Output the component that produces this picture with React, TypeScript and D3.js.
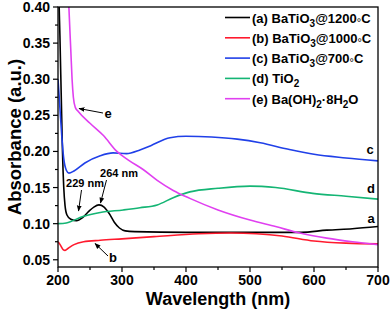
import React from "react";
import * as d3 from "d3";

// wavelength (nm), absorbance (a.u.)
const seriesA: [number, number][] = [
  [200, 0.6], [201, 0.45], [203, 0.36], [205, 0.28], [207, 0.2], [209, 0.15], [211, 0.125],
  [214, 0.112], [220, 0.106], [229, 0.104], [238, 0.108], [248, 0.117], [256, 0.123],
  [264, 0.126], [272, 0.123], [280, 0.114], [288, 0.102], [296, 0.094], [305, 0.09],
  [320, 0.089], [400, 0.088], [500, 0.088], [580, 0.088], [620, 0.091], [660, 0.093], [700, 0.096],
];
const seriesB: [number, number][] = [
  [200, 0.075], [204, 0.07], [208, 0.064], [211, 0.063], [216, 0.066], [225, 0.071],
  [240, 0.075], [266, 0.077], [300, 0.079], [350, 0.082], [420, 0.086], [470, 0.087],
  [510, 0.086], [550, 0.083], [600, 0.076], [650, 0.073], [700, 0.072],
];
const seriesC: [number, number][] = [
  [200, 0.3], [203, 0.26], [206, 0.22], [209, 0.19], [213, 0.174], [217, 0.17], [225, 0.173],
  [242, 0.184], [266, 0.194], [286, 0.198], [307, 0.197], [328, 0.202], [345, 0.208],
  [375, 0.219], [400, 0.221], [440, 0.22], [480, 0.217], [516, 0.212], [560, 0.203],
  [600, 0.196], [650, 0.191], [700, 0.187],
];
const seriesD: [number, number][] = [
  [200, 0.1], [213, 0.101], [239, 0.11], [266, 0.1155], [302, 0.119], [328, 0.122],
  [355, 0.126], [380, 0.136], [406, 0.144], [450, 0.149], [500, 0.152], [540, 0.15],
  [598, 0.142], [650, 0.138], [700, 0.134],
];
const seriesE: [number, number][] = [
  [215, 0.45], [217, 0.4], [220, 0.34], [222, 0.3], [224, 0.275], [227, 0.261], [232, 0.255],
  [250, 0.239], [271, 0.222], [292, 0.2], [310, 0.188], [333, 0.175], [355, 0.16], [380, 0.146],
  [406, 0.135], [450, 0.119], [500, 0.105], [540, 0.096], [578, 0.087], [620, 0.08],
  [660, 0.075], [700, 0.071],
];

const xTicks = [200, 300, 400, 500, 600, 700];
const xMinor = [250, 350, 450, 550, 650];
const yTicks = [0.05, 0.1, 0.15, 0.2, 0.25, 0.3, 0.35, 0.4];
const yMinor = [0.075, 0.125, 0.175, 0.225, 0.275, 0.325, 0.375];

// label parts alternate normal / subscript; deg adds "°C" at the end
const seriesList = [
  { key: "a", data: seriesA, color: "#000000", label: ["(a) BaTiO", "3", "@1200"], deg: true },
  { key: "b", data: seriesB, color: "#ff1a2e", label: ["(b) BaTiO", "3", "@1000"], deg: true },
  { key: "c", data: seriesC, color: "#2040e8", label: ["(c) BaTiO", "3", "@700"], deg: true },
  { key: "d", data: seriesD, color: "#14b574", label: ["(d) TiO", "2"], deg: false },
  { key: "e", data: seriesE, color: "#e040f0", label: ["(e) Ba(OH)", "2", "·8H", "2", "O"], deg: false },
];

const W = 392;
const H = 309;
const left = 58;
const right = 378;
const top = 7;
const bottom = 267;

export default function App() {
  const x = d3.scaleLinear().domain([200, 700]).range([left, right]);
  const y = d3.scaleLinear().domain([0.04, 0.4]).range([bottom, top]);
  const line = d3
    .line<[number, number]>()
    .x((d) => x(d[0]))
    .y((d) => y(d[1]))
    .curve(d3.curveMonotoneX);

  const font = "Arial, 'Liberation Sans', sans-serif";

  return (
    <svg width={W} height={H} style={{ position: "absolute", left: 0, top: 0, background: "#fff" }} fontFamily={font}>
      <defs>
        <clipPath id="plot">
          <rect x={left} y={top} width={right - left} height={bottom - top} />
        </clipPath>
        <marker id="arr" viewBox="0 0 10 10" refX="9" refY="5" markerWidth="6" markerHeight="6" orient="auto">
          <path d="M0,1 L10,5 L0,9 z" fill="#000" />
        </marker>
      </defs>

      <g clipPath="url(#plot)">
        {seriesList.map((s) => (
          <path key={s.key} d={line(s.data) || ""} fill="none" stroke={s.color} strokeWidth={1.6} />
        ))}
      </g>

      {/* frame */}
      <rect x={left} y={top} width={right - left} height={bottom - top} fill="none" stroke="#000" strokeWidth={1.3} />

      {/* x axis */}
      {xTicks.map((t) => (
        <g key={"x" + t}>
          <line x1={x(t)} x2={x(t)} y1={bottom} y2={bottom + 5} stroke="#000" strokeWidth={1.2} />
          <text x={x(t)} y={285} textAnchor="middle" fontSize={14} fontWeight="bold">{t}</text>
        </g>
      ))}
      {xMinor.map((t) => (
        <line key={"xm" + t} x1={x(t)} x2={x(t)} y1={bottom} y2={bottom + 3} stroke="#000" strokeWidth={1.2} />
      ))}
      <text x={218} y={305} textAnchor="middle" fontSize={18} fontWeight="bold">Wavelength (nm)</text>

      {/* y axis */}
      {yTicks.map((t) => (
        <g key={"y" + t}>
          <line x1={left - 5} x2={left} y1={y(t)} y2={y(t)} stroke="#000" strokeWidth={1.2} />
          <text x={50} y={y(t) + 5} textAnchor="end" fontSize={14} fontWeight="bold">{t.toFixed(2)}</text>
        </g>
      ))}
      {yMinor.map((t) => (
        <line key={"ym" + t} x1={left - 3} x2={left} y1={y(t)} y2={y(t)} stroke="#000" strokeWidth={1.2} />
      ))}
      <text transform="translate(21,137) rotate(-90)" textAnchor="middle" fontSize={18.5} fontWeight="bold">
        Absorbance (a.u.)
      </text>

      {/* legend */}
      {seriesList.map((s, i) => {
        const ly = 17.5 + i * 20.3;
        return (
          <g key={"lg" + s.key}>
            <line x1={225} x2={250} y1={ly} y2={ly} stroke={s.color} strokeWidth={1.6} />
            <text x={252} y={ly + 5} fontSize={13} fontWeight="bold">
              {s.label.map((part, j) => {
                const sub = j % 2 === 1;
                return (
                  <tspan key={j} fontSize={sub ? 10 : 13} dy={sub ? 4 : j > 0 ? -4 : 0}>
                    {part}
                  </tspan>
                );
              })}
              {s.deg && (
                <tspan fontSize={11} fontWeight="normal" dy={3}>°</tspan>
              )}
              {s.deg && <tspan dy={-3}>C</tspan>}
            </text>
          </g>
        );
      })}

      {/* annotations */}
      <line x1={103} y1={113} x2={79} y2={108.5} stroke="#000" strokeWidth={1} markerEnd="url(#arr)" />
      <text x={108} y={118} textAnchor="middle" fontSize={13} fontWeight="bold">e</text>

      <text x={85} y={187} textAnchor="middle" fontSize={11} fontWeight="bold">229 nm</text>
      <line x1={81.5} y1={190} x2={78.5} y2={211} stroke="#000" strokeWidth={1} markerEnd="url(#arr)" />
      <text x={119} y={177} textAnchor="middle" fontSize={11} fontWeight="bold">264 nm</text>
      <line x1={106.5} y1={180} x2={100.5} y2={203} stroke="#000" strokeWidth={1} markerEnd="url(#arr)" />

      <line x1={108} y1={256} x2={95} y2={243.5} stroke="#000" strokeWidth={1} markerEnd="url(#arr)" />
      <text x={113} y={262} textAnchor="middle" fontSize={13} fontWeight="bold">b</text>

      <text x={370} y={154} textAnchor="middle" fontSize={13} fontWeight="bold">c</text>
      <text x={371} y={193} textAnchor="middle" fontSize={13} fontWeight="bold">d</text>
      <text x={371} y={223} textAnchor="middle" fontSize={13} fontWeight="bold">a</text>
    </svg>
  );
}
